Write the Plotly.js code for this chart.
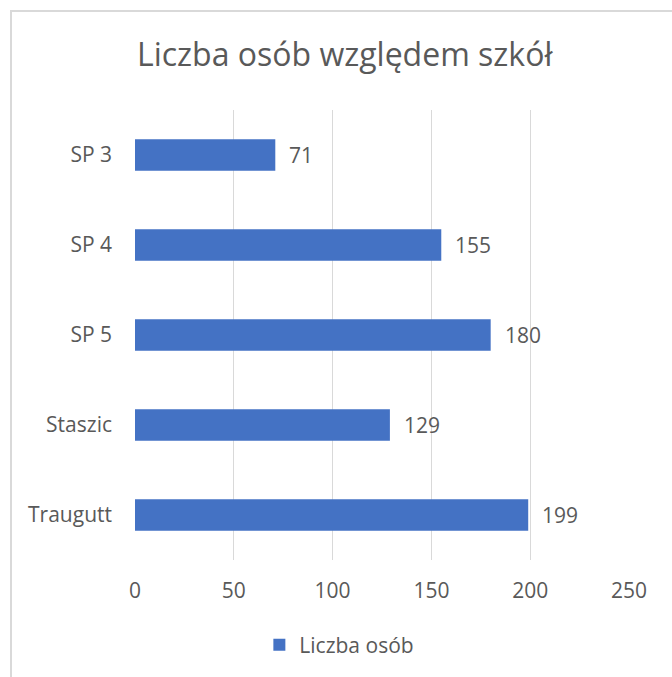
<!DOCTYPE html>
<html>
<head>
<meta charset="utf-8">
<script src="https://cdn.plot.ly/plotly-3.0.1.min.js"></script>
<style>
  html, body { margin: 0; padding: 0; background: #fff; }
  #wrap { position: relative; width: 672px; height: 677px; }
  #chart { position: absolute; left: 0; top: 0; width: 672px; height: 677px; }
  #frame { position: absolute; left: 10px; top: 10px; width: 672px; height: 677px;
           border-left: 2px solid #d9d9d9; border-top: 2px solid #d9d9d9; pointer-events: none; }
</style>
</head>
<body>
<div id="wrap">
  <div id="chart"></div>
  <div id="frame"></div>
</div>
<script>
const categories = ["SP 3", "SP 4", "SP 5", "Staszic", "Traugutt"];
const values = [71, 155, 180, 129, 199];
const seriesName = "Liczba osób";
const chartTitle = "Liczba osób względem szkół";
const tickVals = [0, 50, 100, 150, 200, 250];

const FONT = "'Open Sans', 'Noto Sans', sans-serif";
const GREY = "#595959";
const FS = 21;

const trace = {
  type: "bar",
  orientation: "h",
  x: values,
  y: categories,
  name: seriesName,
  marker: { color: "#4472C4" },
  showlegend: true,
  hoverinfo: "x+y"
};

const annotations = values.map((v, i) => ({
  x: v, y: categories[i], xref: "x", yref: "y",
  text: String(v), showarrow: false,
  xanchor: "left", yanchor: "middle", xshift: 12,
  font: { family: FONT, size: FS, color: GREY }
}));

const layout = {
  width: 672, height: 677,
  margin: { l: 135, r: 43, t: 110, b: 117 },
  paper_bgcolor: "#fff", plot_bgcolor: "#fff",
  font: { family: FONT, size: FS, color: GREY },
  title: {
    text: chartTitle,
    font: { family: FONT, size: 32, color: GREY },
    xref: "container", yref: "container",
    x: 0.513, y: 1 - 55 / 677, xanchor: "center", yanchor: "middle"
  },
  bargap: 0.65,
  xaxis: {
    range: [0, 250], tickvals: tickVals, ticktext: tickVals.map(String),
    showgrid: true, gridcolor: "#d9d9d9", gridwidth: 1,
    zeroline: false, showline: false, ticks: "",
    ticklabelstandoff: 16,
    tickfont: { family: FONT, size: FS, color: GREY },
    fixedrange: true
  },
  yaxis: {
    type: "category", categoryorder: "array", categoryarray: categories,
    autorange: "reversed",
    showgrid: false, zeroline: false, showline: false, ticks: "",
    ticklabelstandoff: 22,
    tickfont: { family: FONT, size: FS, color: GREY },
    fixedrange: true
  },
  showlegend: true,
  legend: {
    orientation: "h",
    xref: "container", yref: "container",
    x: 0.505, y: 1 - 645 / 677, xanchor: "center", yanchor: "middle",
    font: { family: FONT, size: FS, color: GREY },
    itemwidth: 30
  },
  annotations: annotations
};

Plotly.newPlot("chart", [trace], layout, { displayModeBar: false, staticPlot: true });
</script>
</body>
</html>
